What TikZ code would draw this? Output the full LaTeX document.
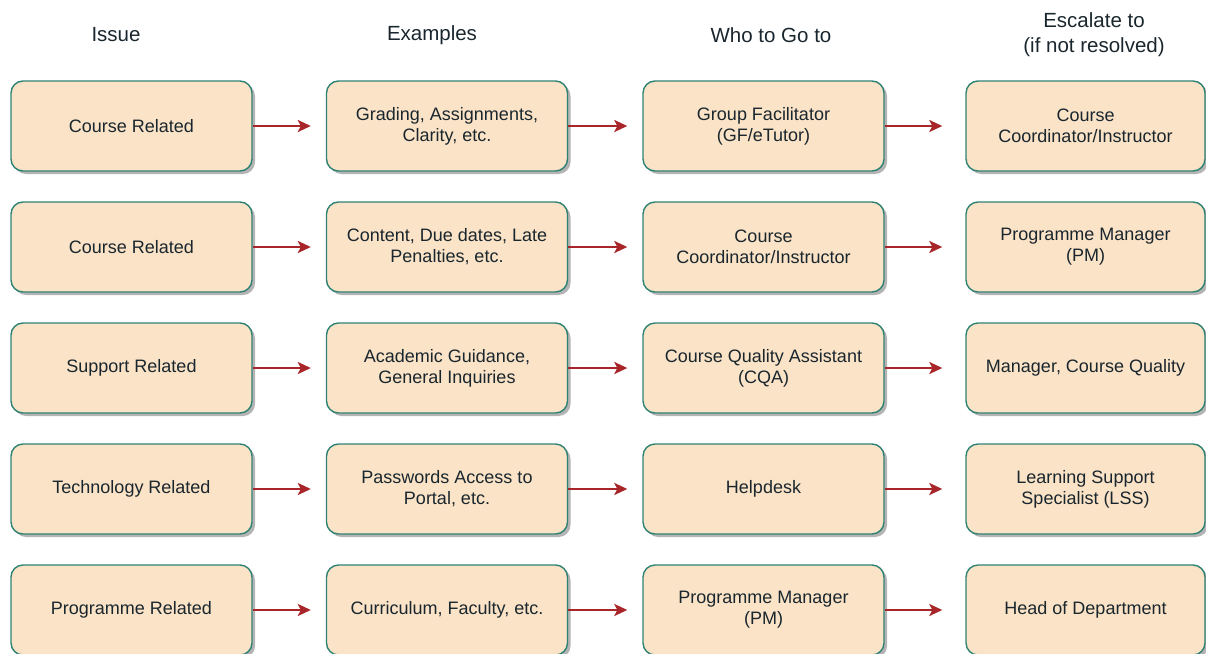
\documentclass[tikz,border=0pt]{standalone}
\usepackage{fontspec}
\setmainfont{Liberation Sans}
\usetikzlibrary{arrows.meta,shadows}
\definecolor{boxfill}{HTML}{FAE3C6}
\definecolor{boxline}{HTML}{2E8274}
\definecolor{arrowred}{HTML}{A8262A}
\definecolor{txt}{HTML}{1A262E}
\definecolor{shadowgray}{HTML}{B4B4B4}
\tikzset{
  stepbox/.style={rectangle, rounded corners=12pt, draw=boxline, line width=1.4pt,
    fill=boxfill, minimum width=241pt, minimum height=90pt, align=center,
    text=txt, font=\fontsize{18}{21}\selectfont, inner sep=0pt,
    drop shadow={shadow xshift=3pt, shadow yshift=-3pt, fill=shadowgray, opacity=1}},
  headtext/.style={align=center, text=txt, font=\fontsize{20.5}{25}\selectfont, inner sep=0pt},
  flow/.style={draw=arrowred, line width=2pt, -{Stealth[length=13pt,width=12pt,inset=3pt]}}
}
\begin{document}
\begin{tikzpicture}[x=1pt,y=-1pt]
\useasboundingbox (0,0) rectangle (1206,653);
% headers
\node[headtext] (h1) at (116,35) {Issue};
\node[headtext] (h2) at (432,35) {Examples};
\node[headtext] (h3) at (771,35) {Who to Go to};
\node[headtext] (h4) at (1094,35) {Escalate to\\(if not resolved)};
% row 1
\node[stepbox] (a1) at (131.5,126) {Course Related};
\node[stepbox] (b1) at (447,126) {Grading, Assignments,\\Clarity, etc.};
\node[stepbox] (c1) at (763.5,126) {Group Facilitator\\(GF/eTutor)};
\node[stepbox, minimum width=239pt] (d1) at (1085.5,126) {Course\\Coordinator/Instructor};
% row 2
\node[stepbox] (a2) at (131.5,247) {Course Related};
\node[stepbox] (b2) at (447,247) {Content, Due dates, Late\\Penalties, etc.};
\node[stepbox] (c2) at (763.5,247) {Course\\Coordinator/Instructor};
\node[stepbox, minimum width=239pt] (d2) at (1085.5,247) {Programme Manager\\(PM)};
% row 3
\node[stepbox] (a3) at (131.5,368) {Support Related};
\node[stepbox] (b3) at (447,368) {Academic Guidance,\\General Inquiries};
\node[stepbox] (c3) at (763.5,368) {Course Quality Assistant\\(CQA)};
\node[stepbox, minimum width=239pt] (d3) at (1085.5,368) {Manager, Course Quality};
% row 4
\node[stepbox] (a4) at (131.5,489) {Technology Related};
\node[stepbox] (b4) at (447,489) {Passwords Access to\\Portal, etc.};
\node[stepbox] (c4) at (763.5,489) {Helpdesk};
\node[stepbox, minimum width=239pt] (d4) at (1085.5,489) {Learning Support\\Specialist (LSS)};
% row 5
\node[stepbox] (a5) at (131.5,610) {Programme Related};
\node[stepbox] (b5) at (447,610) {Curriculum, Faculty, etc.};
\node[stepbox] (c5) at (763.5,610) {Programme Manager\\(PM)};
\node[stepbox, minimum width=239pt] (d5) at (1085.5,610) {Head of Department};
% arrows
\foreach \r in {1,...,5}{
  \draw[flow] (a\r.east) -- ([xshift=-15pt]b\r.west);
  \draw[flow] (b\r.east) -- ([xshift=-15pt]c\r.west);
  \draw[flow] (c\r.east) -- ([xshift=-23pt]d\r.west);
}
\end{tikzpicture}
\end{document}
